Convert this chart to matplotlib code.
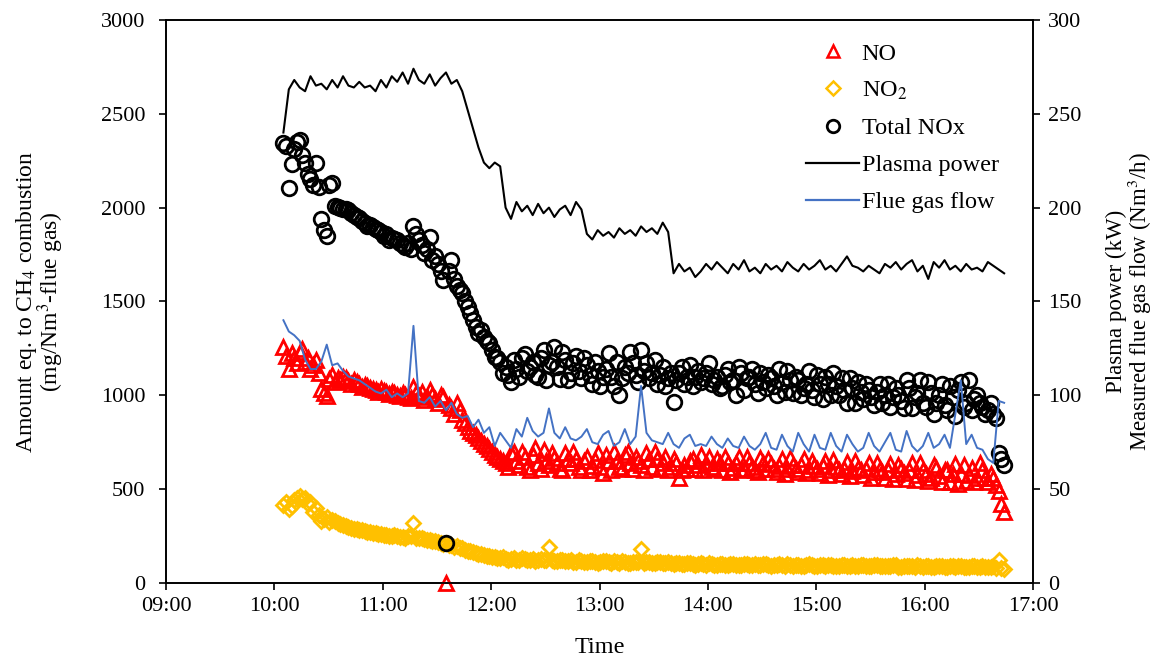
import numpy as np
import pandas as pd
import matplotlib
matplotlib.use("Agg")
import matplotlib.pyplot as plt
import matplotlib.dates as mdates
from matplotlib.lines import Line2D

plt.rcParams['font.family'] = ['Liberation Serif', 'DejaVu Serif']
plt.rcParams['mathtext.fontset'] = 'stix'

# ================================
# Data
# main readings every 3 min, extra readings in between (*_b)
# ================================
time = pd.date_range("2020-01-01 10:05", "2020-01-01 16:44", freq="3min")
time_b = pd.date_range("2020-01-01 10:06:30", "2020-01-01 16:42:30", freq="3min")

no_ppm = [1255, 1140, 1200, 1230, 1175, 1140, 1190, 1035, 995, 1110,
          1090, 1100, 1075, 1080, 1060, 1055, 1040, 1030, 1035, 1015,
          1020, 1000, 1010, 990, 1045, 995, 975, 1030, 980, 1000,
          0, 930, 960, 870, 830, 800, 770, 740, 715, 680,
          660, 640, 690, 650, 700, 620, 680, 640, 710, 630,
          665, 610, 690, 640, 660, 600, 670, 625, 690, 585,
          650, 700, 620, 680, 640, 670, 630, 690, 620, 660,
          640, 600, 660, 560, 630, 650, 610, 680, 640, 620,
          660, 600, 640, 615, 670, 610, 640, 600, 665, 610,
          635, 590, 660, 605, 630, 590, 660, 600, 625, 585,
          650, 600, 620, 580, 645, 595, 615, 575, 640, 590,
          610, 560, 635, 580, 610, 555, 640, 575, 600, 545,
          630, 570, 600, 540, 635, 580, 545, 615, 560, 600,
          540, 560, 490, 380]

no_ppm_b = [1210, 1225, 1170, 1245, 1200, 1160, 1120, 1010, 1085, 1070,
            1080, 1090, 1060, 1070, 1045, 1050, 1035, 1020, 1025, 1005,
            1010, 995, 1000, 985, 1010, 1020, 990, 1000, 960, 990,
            950, 900, 920, 850, 810, 790, 755, 730, 700, 670,
            650, 620, 700, 630, 670, 600, 720, 610, 650, 690,
            640, 600, 660, 700, 620, 650, 600, 655, 620, 680,
            600, 650, 610, 700, 610, 650, 600, 660, 700, 610,
            670, 620, 640, 600, 610, 660, 630, 600, 670, 610,
            640, 670, 590, 640, 600, 670, 620, 590, 640, 660,
            610, 625, 580, 665, 610, 630, 585, 650, 610, 625,
            575, 655, 600, 610, 570, 650, 600, 605, 560, 640,
            590, 600, 555, 630, 585, 600, 550, 640, 580, 560,
            615, 540, 600, 580, 530, 630, 575, 540, 640, 560,
            580, 520, 420]

no2 = [415, 395, 440, 465, 455, 430, 400, 330, 350, 335,
       320, 310, 300, 290, 285, 275, 272, 265, 262, 255,
       252, 250, 245, 248, 320, 240, 235, 230, 222, 215,
       212, 200, 195, 185, 172, 165, 155, 150, 142, 138,
       132, 130, 128, 125, 132, 120, 128, 122, 124, 190,
       118, 125, 115, 120, 112, 118, 110, 116, 108, 115,
       110, 118, 105, 112, 108, 114, 180, 110, 104, 112,
       106, 110, 102, 108, 100, 106, 98, 104, 97, 103,
       96, 102, 95, 101, 97, 100, 94, 99, 95, 101,
       93, 98, 94, 100, 92, 97, 93, 99, 91, 96,
       92, 98, 90, 95, 91, 97, 89, 94, 90, 96,
       88, 93, 89, 95, 87, 92, 88, 94, 86, 91,
       87, 93, 85, 90, 86, 92, 84, 89, 85, 90,
       83, 88, 125, 75]

no2_b = [430, 410, 455, 445, 420, 380, 360, 340, 325, 330,
         315, 305, 295, 288, 280, 270, 268, 262, 258, 250,
         255, 245, 240, 250, 238, 242, 228, 225, 218, 210,
         205, 190, 188, 178, 168, 160, 152, 145, 140, 135,
         138, 125, 132, 120, 128, 124, 118, 128, 120, 125,
         115, 122, 118, 113, 120, 112, 118, 110, 113, 117,
         108, 112, 115, 106, 110, 112, 108, 113, 106, 110,
         104, 108, 105, 103, 108, 100, 102, 99, 104, 98,
         100, 97, 103, 96, 98, 101, 95, 97, 99, 94,
         96, 99, 93, 95, 98, 92, 95, 97, 92, 94,
         96, 91, 93, 96, 90, 93, 95, 89, 92, 94,
         88, 91, 94, 87, 90, 93, 86, 89, 92, 86,
         88, 91, 85, 88, 90, 84, 87, 89, 83, 86,
         84, 82, 80]

nox = [2345, 2105, 2310, 2360, 2240, 2150, 2240, 1940, 1850, 2130,
       2005, 1995, 1985, 1960, 1945, 1920, 1910, 1885, 1870, 1860,
       1840, 1825, 1800, 1810, 1900, 1830, 1760, 1845, 1740, 1660,
       212, 1720, 1580, 1545, 1470, 1400, 1330, 1310, 1280, 1205,
       1180, 1150, 1070, 1140, 1200, 1130, 1180, 1100, 1240, 1160,
       1255, 1085, 1190, 1120, 1210, 1090, 1160, 1060, 1130, 1100,
       1225, 1050, 1000, 1150, 1230, 1110, 1240, 1170, 1120, 1060,
       1150, 1090, 965, 1120, 1060, 1160, 1100, 1070, 1120, 1060,
       1100, 1050, 1140, 1080, 1150, 1030, 1100, 1060, 1120, 1040,
       1090, 1000, 1070, 1130, 1010, 1080, 1040, 1130, 990, 1060,
       1100, 1000, 1050, 1090, 960, 1040, 1070, 980, 1030, 950,
       1060, 1000, 940, 1040, 970, 1080, 930, 1010, 960, 1070,
       900, 1000, 950, 1050, 890, 1070, 960, 920, 1000, 940,
       920, 900, 690, 630]

nox_b = [2330, 2230, 2350, 2280, 2180, 2120, 2110, 1880, 2120, 2010,
         2000, 1990, 1970, 1950, 1930, 1900, 1895, 1880, 1850, 1830,
         1835, 1810, 1790, 1780, 1860, 1800, 1780, 1720, 1700, 1615,
         1660, 1620, 1560, 1500, 1440, 1365, 1350, 1290, 1240, 1200,
         1120, 1110, 1190, 1100, 1220, 1150, 1110, 1200, 1080, 1180,
         1150, 1230, 1080, 1170, 1130, 1200, 1110, 1180, 1050, 1140,
         1100, 1180, 1090, 1120, 1170, 1070, 1130, 1090, 1190, 1110,
         1050, 1120, 1080, 1150, 1100, 1050, 1130, 1090, 1170, 1080,
         1040, 1110, 1070, 1000, 1120, 1090, 1140, 1010, 1070, 1110,
         1050, 1140, 1020, 1080, 1100, 1000, 1060, 1030, 1110, 980,
         1060, 1120, 1000, 1030, 1090, 960, 1020, 1060, 990, 1020,
         960, 1060, 990, 1000, 930, 1040, 990, 1080, 940, 1010,
         960, 1060, 920, 990, 1030, 940, 1080, 980, 960, 900,
         960, 880, 660]

plasma_kw = [240, 263, 268, 264, 262, 270, 265, 266, 263, 268,
             264, 270, 265, 264, 267, 264, 265, 262, 268, 264,
             270, 267, 272, 266, 274, 268, 266, 271, 265, 269,
             272, 266, 268, 262, 252, 242, 232, 224, 221, 224,
             222, 200, 194, 203, 198, 201, 196, 202, 197, 200,
             195, 199, 201, 196, 203, 199, 186, 183, 188, 185,
             187, 184, 189, 186, 188, 185, 190, 187, 189, 186,
             192, 187, 165, 170, 166, 168, 163, 166, 170, 167,
             171, 168, 165, 170, 167, 172, 166, 168, 165, 170,
             167, 169, 166, 171, 168, 166, 170, 167, 169, 172,
             167, 169, 166, 170, 174, 169, 168, 166, 169, 167,
             165, 170, 168, 171, 167, 170, 172, 166, 169, 162,
             171, 168, 172, 167, 169, 166, 170, 167, 168, 166,
             171, 169, 167, 165]

flue_flow = [140, 134, 132, 129, 119, 114, 114, 118, 127, 116,
             117, 113, 110, 109, 108, 106, 104, 102, 101, 103,
             99, 101, 99, 101, 137, 97, 96, 99, 94, 97,
             92, 96, 90, 88, 89, 83, 87, 80, 83, 73,
             80, 76, 72, 82, 78, 88, 81, 78, 80, 93,
             80, 77, 83, 77, 76, 78, 82, 75, 74, 79,
             81, 73, 75, 82, 74, 78, 105, 80, 76, 75,
             74, 80, 74, 72, 77, 79, 73, 74, 73, 78,
             74, 72, 77, 73, 72, 78, 73, 71, 74, 80,
             72, 71, 79, 73, 70, 80, 74, 70, 79, 72,
             71, 80, 73, 70, 79, 74, 70, 72, 80, 73,
             70, 75, 80, 71, 70, 81, 73, 70, 73, 80,
             72, 74, 79, 72, 90, 108, 74, 79, 72, 71,
             66, 64, 97, 96]

# ================================
# Plot
# ================================
fig = plt.figure(figsize=(11.64, 6.64), dpi=100)
ax = fig.add_axes([0.1426, 0.122, 0.7449, 0.848])
ax2 = ax.twinx()

no_style = dict(linestyle='none', marker='^', markersize=9.5, markerfacecolor='none',
                markeredgecolor='#FF0000', markeredgewidth=2.0, clip_on=False, zorder=3)
no2_style = dict(linestyle='none', marker='D', markersize=7.5, markerfacecolor='none',
                 markeredgecolor='#FFC000', markeredgewidth=2.0, zorder=3)
nox_style = dict(linestyle='none', marker='o', markersize=10.5, markerfacecolor='none',
                 markeredgecolor='black', markeredgewidth=2.0, zorder=4)

ax.plot(time, no_ppm, **no_style)
ax.plot(time_b, no_ppm_b, **no_style)
ax.plot(time, no2, **no2_style)
ax.plot(time_b, no2_b, **no2_style)
ax.plot(time, nox, **nox_style)
ax.plot(time_b, nox_b, **nox_style)

ax2.plot(time, plasma_kw, color='black', linewidth=1.5)
ax2.plot(time, flue_flow, color='#4472C4', linewidth=1.4)

# Axes limits and ticks
t0 = pd.Timestamp("2020-01-01 09:00")
t1 = pd.Timestamp("2020-01-01 17:00")
ax.set_xlim(t0, t1)
ax.set_ylim(0, 3000)
ax2.set_ylim(0, 300)
ax.set_yticks(np.arange(0, 3001, 500))
ax2.set_yticks(np.arange(0, 301, 50))
ax.xaxis.set_major_locator(mdates.HourLocator())
ax.xaxis.set_major_formatter(mdates.DateFormatter('%H:%M'))

for a in (ax, ax2):
    a.tick_params(direction='out', length=5, width=1.2, labelsize=16)
    for s in a.spines.values():
        s.set_linewidth(1.2)
ax.tick_params(axis='y', pad=10)
ax.tick_params(axis='x', pad=5)
ax2.tick_params(axis='y', pad=6)

ax.set_xlabel("Time", fontsize=17.5, labelpad=15)
ax.set_ylabel("Amount eq. to CH$_4$ combustion\n(mg/Nm$^3$-flue gas)", fontsize=17,
              labelpad=25, linespacing=0.82)
ax2.set_ylabel("Plasma power (kW)\nMeasured flue gas flow (Nm$^3$/h)", fontsize=16.5,
               labelpad=17, linespacing=0.95)

# Legend
handles = [
    Line2D([], [], linestyle='none', marker='^', markersize=9, markerfacecolor='none',
           markeredgecolor='#FF0000', markeredgewidth=1.8),
    Line2D([], [], linestyle='none', marker='D', markersize=7, markerfacecolor='none',
           markeredgecolor='#FFC000', markeredgewidth=1.8),
    Line2D([], [], linestyle='none', marker='o', markersize=9, markerfacecolor='none',
           markeredgecolor='black', markeredgewidth=2.0),
    Line2D([], [], color='black', linewidth=1.6),
    Line2D([], [], color='#4472C4', linewidth=1.6),
]
labels = ["NO", "NO$_2$", "Total NOx", "Plasma power", "Flue gas flow"]
ax2.legend(handles, labels, loc='upper right', bbox_to_anchor=(0.98, 0.99),
           frameon=False, fontsize=17.5, handlelength=2.2, handletextpad=0.1,
           labelspacing=0.62, borderpad=0.2)

fig.savefig("out.png", dpi=100)
